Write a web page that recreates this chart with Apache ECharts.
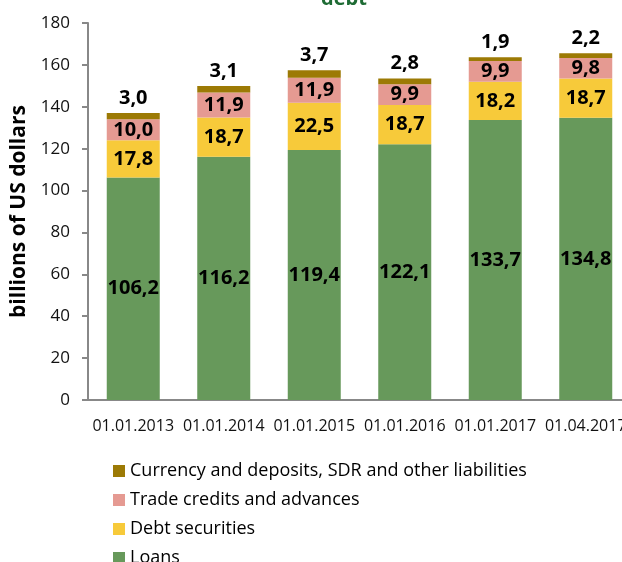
<!DOCTYPE html>
<html>
<head>
<meta charset="utf-8">
<script src="https://cdn.jsdelivr.net/npm/echarts@6/dist/echarts.min.js"></script>
<style>
  html, body { margin: 0; padding: 0; background: #fff; }
  #chart { width: 622px; height: 562px; }
</style>
</head>
<body>
<div id="chart"></div>
<script>
var categories = ["01.01.2013", "01.01.2014", "01.01.2015", "01.01.2016", "01.01.2017", "01.04.2017"];
var loans = [106.2, 116.2, 119.4, 122.1, 133.7, 134.8];
var debtSecurities = [17.8, 18.7, 22.5, 18.7, 18.2, 18.7];
var tradeCredits = [10.0, 11.9, 11.9, 9.9, 9.9, 9.8];
var currencyDeposits = [3.0, 3.1, 3.7, 2.8, 1.9, 2.2];

var font = "'Open Sans', 'Noto Sans', sans-serif";

function comma(p) {
  return p.value.toFixed(1).replace(".", ",");
}

var labelStyle = {
  show: true,
  formatter: comma,
  color: "#000",
  fontWeight: "bold",
  fontSize: 20,
  fontFamily: font
};

var chart = echarts.init(document.getElementById("chart"));

var option = {
  animation: false,
  title: {
    text: "debt",
    left: 316,
    top: -16,
    textStyle: { color: "#1e6b34", fontSize: 20, fontWeight: "bold", fontFamily: font }
  },
  grid: { left: 88, right: -9, top: 23, bottom: 162, outerBoundsMode: "none" },
  legend: {
    orient: "vertical",
    left: 108,
    top: 457,
    height: 200,
    itemWidth: 12,
    itemHeight: 12,
    itemGap: 11,
    icon: "rect",
    data: ["Currency and deposits, SDR and other liabilities", "Trade credits and advances", "Debt securities", "Loans"],
    textStyle: { color: "#000", fontSize: 18, fontFamily: font }
  },
  xAxis: {
    type: "category",
    data: categories,
    axisLine: { lineStyle: { color: "#888", width: 2 } },
    axisTick: { show: false },
    axisLabel: { color: "#111", fontSize: 16, fontFamily: font, margin: 18, interval: 0 }
  },
  yAxis: {
    type: "value",
    min: 0,
    max: 180,
    interval: 20,
    name: "billions of US dollars",
    nameLocation: "middle",
    nameGap: 52,
    nameTextStyle: { color: "#000", fontSize: 21, fontWeight: "bold", fontFamily: font },
    axisLine: { show: true, lineStyle: { color: "#888", width: 2 } },
    axisTick: { show: true, length: 6, lineStyle: { color: "#888", width: 2 } },
    splitLine: { show: false },
    axisLabel: { color: "#111", fontSize: 17, fontFamily: font, margin: 18 }
  },
  series: [
    {
      name: "Loans", type: "bar", stack: "total", data: loans,
      barWidth: 53,
      itemStyle: { color: "#67995b" },
      label: Object.assign({}, labelStyle, { position: "inside" })
    },
    {
      name: "Debt securities", type: "bar", stack: "total", data: debtSecurities,
      itemStyle: { color: "#f7ca3a" },
      label: Object.assign({}, labelStyle, { position: "inside" })
    },
    {
      name: "Trade credits and advances", type: "bar", stack: "total", data: tradeCredits,
      itemStyle: { color: "#e59a92" },
      label: Object.assign({}, labelStyle, { position: "inside" })
    },
    {
      name: "Currency and deposits, SDR and other liabilities", type: "bar", stack: "total", data: currencyDeposits,
      itemStyle: { color: "#9c7a05" },
      label: Object.assign({}, labelStyle, { position: "top", distance: 5 })
    }
  ]
};

chart.setOption(option);
</script>
</body>
</html>
